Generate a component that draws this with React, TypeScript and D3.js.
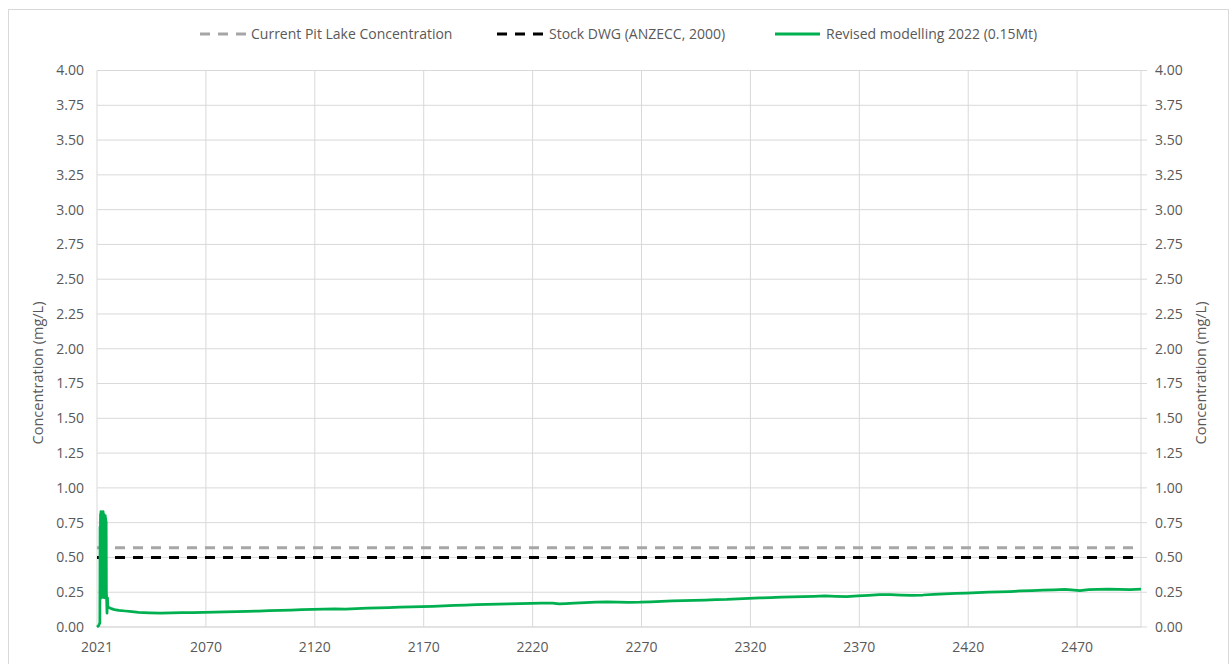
import React from "react";
import * as d3 from "d3";

// ---------- data ----------
const yTicks = [0, 0.25, 0.5, 0.75, 1, 1.25, 1.5, 1.75, 2, 2.25, 2.5, 2.75, 3, 3.25, 3.5, 3.75, 4];
const xTickYears = [2021, 2070.97, 2120.93, 2170.9, 2220.86, 2270.83, 2320.8, 2370.76, 2420.73, 2470.69];
const xTickLabels = ["2021", "2070", "2120", "2170", "2220", "2270", "2320", "2370", "2420", "2470"];

const currentPitLake = 0.57;
const stockDWG = 0.5;

const legendLabels = [
  "Current Pit Lake Concentration",
  "Stock DWG (ANZECC, 2000)",
  "Revised modelling 2022 (0.15Mt)",
];

const revisedYears = [
  2021.0, 2021.8, 2022.3,
  2022.4, 2022.5, 2022.6, 2022.7, 2022.8, 2022.9, 2023.0, 2023.1, 2023.2, 2023.3,
  2023.4, 2023.5, 2023.6, 2023.7, 2023.8, 2023.9, 2024.0, 2024.1, 2024.2, 2024.3,
  2024.4, 2024.5, 2024.6, 2024.7, 2024.8, 2024.9, 2025.0, 2025.1, 2025.2, 2025.3, 2025.4,
  2025.6, 2025.8, 2026.0, 2026.5, 2027.5, 2029, 2031, 2034, 2037, 2040, 2045, 2050, 2055,
  2060, 2065, 2070, 2075, 2080, 2085, 2090, 2095, 2100, 2105, 2110, 2115, 2120, 2125,
  2130, 2135, 2140, 2145, 2150, 2155, 2160, 2165, 2170, 2175, 2180, 2185, 2190, 2195,
  2200, 2205, 2210, 2215, 2220, 2225, 2230, 2233, 2236, 2240, 2245, 2250, 2255, 2260,
  2265, 2270, 2275, 2280, 2285, 2290, 2295, 2300, 2305, 2310, 2315, 2320, 2325, 2330,
  2335, 2340, 2345, 2350, 2355, 2360, 2365, 2370, 2375, 2380, 2385, 2390, 2395, 2400,
  2405, 2410, 2415, 2420, 2425, 2430, 2435, 2440, 2445, 2450, 2455, 2460, 2465, 2468,
  2472, 2476, 2480, 2485, 2490, 2495, 2500,
];
const revisedValues = [
  0.0, 0.01, 0.03,
  0.72, 0.24, 0.81, 0.22, 0.83, 0.26, 0.79, 0.21, 0.82, 0.3,
  0.76, 0.22, 0.8, 0.25, 0.83, 0.23, 0.78, 0.28, 0.81, 0.21,
  0.79, 0.24, 0.77, 0.22, 0.8, 0.26, 0.78, 0.23, 0.76, 0.25, 0.21,
  0.1, 0.21, 0.145, 0.14, 0.132, 0.125, 0.12, 0.115, 0.11, 0.105, 0.102, 0.1, 0.101,
  0.103, 0.104, 0.106, 0.107, 0.109, 0.11, 0.112, 0.115, 0.117, 0.119, 0.122, 0.124, 0.127, 0.128,
  0.13, 0.129, 0.132, 0.135, 0.137, 0.14, 0.143, 0.144, 0.146, 0.149, 0.152, 0.155, 0.158, 0.16,
  0.162, 0.164, 0.166, 0.168, 0.17, 0.171, 0.172, 0.166, 0.168, 0.172, 0.176, 0.179, 0.18, 0.178,
  0.177, 0.178, 0.181, 0.184, 0.187, 0.189, 0.192, 0.194, 0.197, 0.199, 0.203, 0.206, 0.209, 0.212,
  0.214, 0.216, 0.219, 0.221, 0.223, 0.221, 0.219, 0.224, 0.228, 0.232, 0.233, 0.23, 0.228, 0.23,
  0.234, 0.238, 0.241, 0.244, 0.247, 0.25, 0.252, 0.255, 0.259, 0.262, 0.265, 0.267, 0.27, 0.266,
  0.262, 0.268, 0.271, 0.272, 0.27, 0.268, 0.272,
];

// ---------- layout ----------
const W = 1231;
const H = 664;
const PL = 97;
const PR = 1141;
const PT = 70.5;
const PB = 627;
const FONT = "'Open Sans', 'Noto Sans', sans-serif";
const TXT = "#595959";
const GRID = "#d9d9d9";
const GREEN = "#00b050";
const FS = 14;
const TITLE_Y = 373;

export default function App() {
  const x = d3.scaleLinear().domain([2021, 2500]).range([PL, PR]);
  const y = d3.scaleLinear().domain([0, 4]).range([PB, PT]);

  const pts: [number, number][] = revisedYears.map((yr, i) => [yr, revisedValues[i]]);
  const line = d3
    .line<[number, number]>()
    .x((d) => x(d[0]))
    .y((d) => y(d[1]));

  const legendItems = [
    { x1: 200, x2: 247, tx: 251, color: "#a6a6a6", dash: "10 8", label: legendLabels[0] },
    { x1: 497, x2: 545, tx: 549, color: "#000000", dash: "10 8", label: legendLabels[1] },
    { x1: 775, x2: 820, tx: 826, color: GREEN, dash: undefined, label: legendLabels[2] },
  ];

  return (
    <svg
      width={W}
      height={H}
      style={{ position: "absolute", left: 0, top: 0, background: "#fff" }}
      fontFamily={FONT}
    >
      <rect x={8.5} y={9.5} width={1220} height={H} fill="#fff" stroke={GRID} strokeWidth={1} />

      {/* gridlines */}
      {yTicks.map((t) => (
        <line key={"gy" + t} x1={PL} x2={PR} y1={y(t)} y2={y(t)} stroke={GRID} strokeWidth={1} />
      ))}
      {xTickYears.slice(1).map((t) => (
        <line key={"gx" + t} x1={x(t)} x2={x(t)} y1={PT} y2={PB} stroke={GRID} strokeWidth={1} />
      ))}
      {/* axes lines */}
      <line x1={PL} x2={PL} y1={PT} y2={PB} stroke={GRID} strokeWidth={1} />
      <line x1={PR} x2={PR} y1={PT} y2={PB} stroke={GRID} strokeWidth={1} />
      <line x1={PL} x2={PR} y1={PB} y2={PB} stroke={GRID} strokeWidth={1} />
      {yTicks.map((t) => (
        <line key={"rt" + t} x1={PR} x2={PR + 6} y1={y(t)} y2={y(t)} stroke={GRID} strokeWidth={1} />
      ))}

      {/* tick labels */}
      {yTicks.map((t) => (
        <text key={"ly" + t} x={84} y={y(t)} dy="0.35em" textAnchor="end" fontSize={FS} fill={TXT}>
          {d3.format(".2f")(t)}
        </text>
      ))}
      {yTicks.map((t) => (
        <text key={"ry" + t} x={1155} y={y(t)} dy="0.35em" textAnchor="start" fontSize={FS} fill={TXT}>
          {d3.format(".2f")(t)}
        </text>
      ))}
      {xTickYears.map((t, i) => (
        <text key={"lx" + t} x={x(t)} y={647} dy="0.35em" textAnchor="middle" fontSize={FS} fill={TXT}>
          {xTickLabels[i]}
        </text>
      ))}

      {/* axis titles */}
      <text
        transform={`translate(38,${TITLE_Y}) rotate(-90)`}
        textAnchor="middle"
        dy="0.35em"
        fontSize={14.5}
        fill={TXT}
      >
        Concentration (mg/L)
      </text>
      <text
        transform={`translate(1201,${TITLE_Y}) rotate(-90)`}
        textAnchor="middle"
        dy="0.35em"
        fontSize={14.5}
        fill={TXT}
      >
        Concentration (mg/L)
      </text>

      {/* reference lines */}
      <line
        x1={PL}
        x2={PR}
        y1={y(currentPitLake)}
        y2={y(currentPitLake)}
        stroke="#a6a6a6"
        strokeWidth={3}
        strokeDasharray="10 8"
      />
      <line
        x1={PL}
        x2={PR}
        y1={y(stockDWG)}
        y2={y(stockDWG)}
        stroke="#000"
        strokeWidth={3}
        strokeDasharray="10 8"
      />

      {/* series */}
      <path d={line(pts) || ""} fill="none" stroke={GREEN} strokeWidth={2.75} strokeLinejoin="round" />

      {/* legend */}
      {legendItems.map((it) => (
        <g key={it.label}>
          <line
            x1={it.x1}
            x2={it.x2}
            y1={34}
            y2={34}
            stroke={it.color}
            strokeWidth={3}
            strokeDasharray={it.dash}
          />
          <text x={it.tx} y={34} dy="0.35em" fontSize={FS} fill={TXT}>
            {it.label}
          </text>
        </g>
      ))}
    </svg>
  );
}
